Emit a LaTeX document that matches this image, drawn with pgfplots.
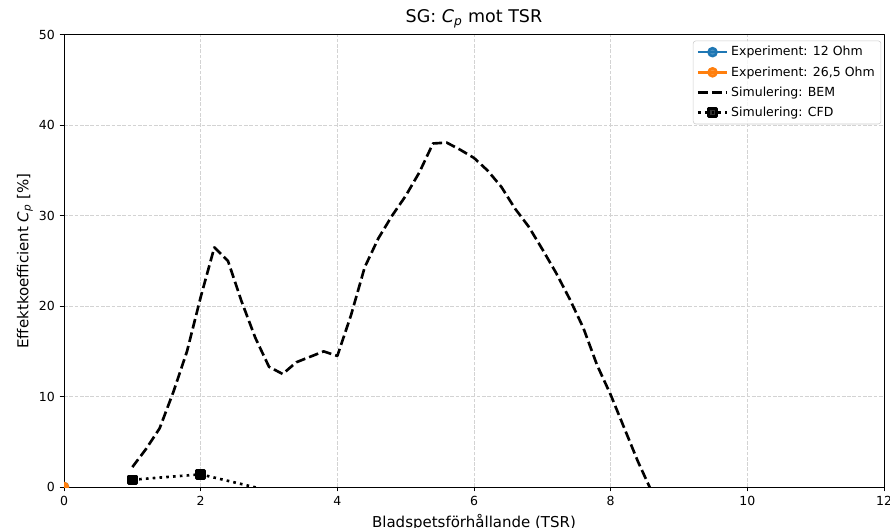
\documentclass[border=0pt]{standalone}
\usepackage{fontspec}
\setmainfont{DejaVu Sans}
\usepackage{pgfplots}
\pgfplotsset{compat=1.18}
\definecolor{mplblue}{HTML}{1F77B4}
\definecolor{mplorange}{HTML}{FF7F0E}
\definecolor{gridgray}{HTML}{D3D3D3}
\definecolor{legframe}{HTML}{CCCCCC}

\begin{document}
\begin{tikzpicture}
\useasboundingbox (-46.08bp,-29.52bp) rectangle (594.72bp,350.64bp);
\begin{axis}[
    at={(0,0)}, anchor=south west,
    scale only axis,
    width=590.4bp, height=325.44bp,
    xmin=0, xmax=12, ymin=0, ymax=50,
    xtick={0,2,...,12}, ytick={0,10,...,50},
    grid=major,
    major grid style={gridgray, line width=0.72bp, dash pattern=on 2.66bp off 1.15bp},
    axis line style={black, line width=0.72bp},
    tick style={black, line width=0.72bp},
    tick align=outside,
    major tick length=3.15bp,
    xtick pos=left, ytick pos=left,
    tick label style={font=\fontsize{9bp}{11bp}\selectfont},
    /pgf/number format/assume math mode=true,
    clip marker paths=true,
    title={SG: \textit{C}\textsubscript{\textit{p}} mot TSR},
    every axis title/.style={at={(axis description cs:0.5,1)}, anchor=south, yshift=5bp, inner sep=0pt, font=\fontsize{12.6bp}{15bp}\selectfont},
    xlabel={Bladspetsförhållande (TSR)},
    every axis x label/.style={at={(axis description cs:0.5,0)}, anchor=north, yshift=-19.5bp, inner sep=0pt, font=\fontsize{10.8bp}{13bp}\selectfont},
    ylabel={Effektkoefficient \textit{C}\textsubscript{\textit{p}} [\%]},
    every axis y label/.style={at={(axis description cs:0,0.5)}, xshift=-22.3bp, rotate=90, anchor=south, inner sep=0pt, font=\fontsize{10.8bp}{13bp}\selectfont},
    legend style={at={(rel axis cs:1,1)}, anchor=north east, xshift=-2bp, yshift=-4bp,
        draw=legframe, fill=white, fill opacity=0.8, text opacity=1, draw opacity=1,
        rounded corners=2bp, font=\fontsize{9bp}{11bp}\selectfont,
        inner xsep=2.5bp, inner ysep=2bp, row sep=2.2bp, cells={anchor=west}},
    legend image code/.code={\draw[mark repeat=2,mark phase=2] plot coordinates {(0bp,0bp)(10.5bp,0bp)(21bp,0bp)};},
    line join=round,
]
\addplot[mplblue, line width=1.8bp, mark=*, mark size=2.9bp] coordinates {(0,0)};
\addlegendentry{Experiment: 12 Ohm}
\addplot[mplorange, line width=1.8bp, mark=*, mark size=2.9bp] coordinates {(0,0)};
\addlegendentry{Experiment: 26,5 Ohm}
\addplot[black, line width=1.9bp, dash pattern=on 7bp off 3bp] coordinates {
    (1.0,2.2) (1.2,4.2) (1.4,6.5) (1.6,10.5) (1.8,15.0) (2.0,21.0)
    (2.2,26.5) (2.4,25.0) (2.6,20.5) (2.8,16.5) (3.0,13.3) (3.2,12.5)
    (3.4,13.8) (3.6,14.4) (3.8,15.0) (4.0,14.5) (4.2,19.0) (4.4,24.3)
    (4.6,27.5) (4.8,30.0) (5.0,32.2) (5.2,34.8) (5.4,38.0) (5.6,38.1)
    (5.8,37.3) (6.0,36.4) (6.2,35.0) (6.4,33.2) (6.6,30.8) (6.8,28.8)
    (7.0,26.3) (7.2,23.7) (7.4,20.8) (7.6,17.6) (7.8,13.5) (8.0,10.2)
    (8.2,6.5) (8.4,2.8) (8.6,-0.5)
};
\addlegendentry{Simulering: BEM}
\addplot[black, line width=1.9bp, dash pattern=on 1.9bp off 3bp, mark=square*, mark size=2.8bp, mark options={solid}] coordinates {
    (1,0.8) (2,1.4) (3,-0.4)
};
\addlegendentry{Simulering: CFD}
\end{axis}
\end{tikzpicture}
\end{document}
